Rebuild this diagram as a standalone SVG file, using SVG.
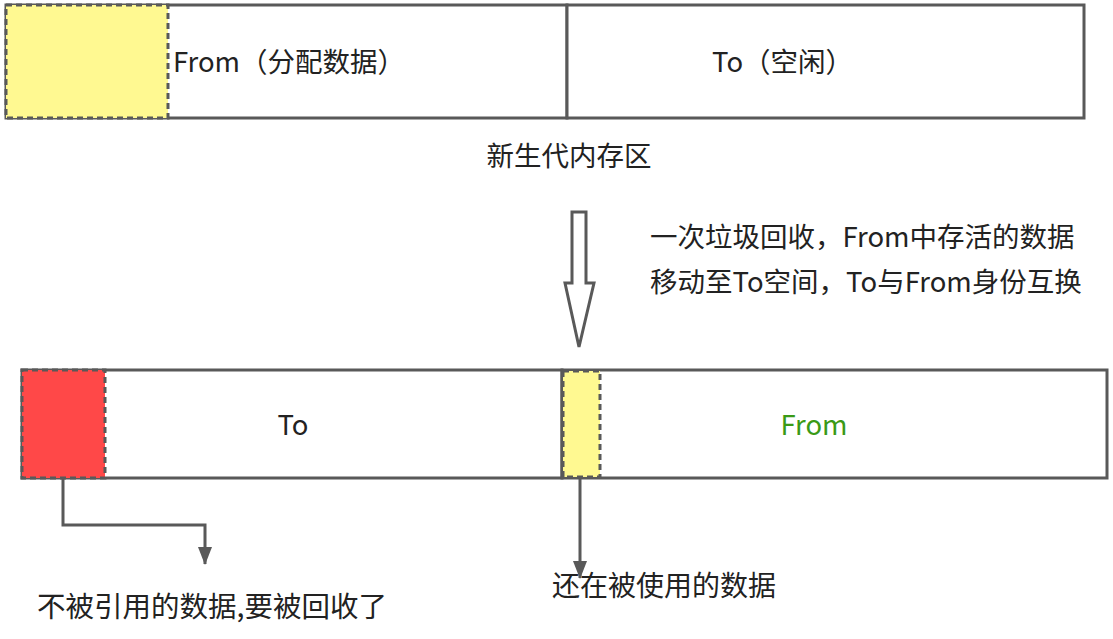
<svg xmlns="http://www.w3.org/2000/svg" width="1113" height="639" viewBox="0 0 1113 639">
<style>
text{font-family:"Noto Sans CJK SC","Noto Sans",sans-serif;font-size:27.5px;fill:#222;dominant-baseline:central}
.big{font-size:28.5px}
.mid{font-size:28px}
.box{fill:#fff;stroke:#595959;stroke-width:3}
.dash{stroke:#595959;stroke-width:3;stroke-dasharray:6 4}
.conn{fill:none;stroke:#595959;stroke-width:3}
</style>
<defs>
<marker id="ah" viewBox="0 0 18 14" refX="17" refY="7" markerWidth="18" markerHeight="14" markerUnits="userSpaceOnUse" orient="auto">
<path d="M0,0 L18,7 L0,14 Z" fill="#595959"/>
</marker>
</defs>
<rect width="1113" height="639" fill="#fff"/>
<g id="from-top">
<rect class="box" x="6" y="5" width="561" height="113"/>
<rect class="dash" x="6" y="5" width="162" height="113" fill="#fff991"/>
<text x="173" y="60">From（分配数据）</text>
</g>
<g id="to-top">
<rect class="box" x="567" y="5" width="517" height="113"/>
<text x="712" y="60">To（空闲）</text>
</g>
<g id="young-label">
<text x="569" y="154" text-anchor="middle">新生代内存区</text>
</g>
<g id="gc-arrow">
<path d="M572,212 L586,212 L586,283 L594,283 L579,347 L565,283 L572,283 Z" fill="#fff" stroke="#595959" stroke-width="3" stroke-linejoin="miter"/>
<text x="650" y="235">一次垃圾回收，From中存活的数据</text>
<text x="650" y="280">移动至To空间，To与From身份互换</text>
</g>
<g id="to-bottom">
<rect class="box" x="22" y="370" width="540" height="108"/>
<rect class="dash" x="22" y="370" width="83" height="108" fill="#ff4848"/>
<text x="293" y="423" text-anchor="middle">To</text>
</g>
<g id="from-bottom">
<rect class="box" x="562" y="370" width="545" height="108"/>
<rect class="dash" x="563" y="371" width="37" height="106" fill="#fff991"/>
<text x="814" y="423" text-anchor="middle" style="fill:#3a9a16">From</text>
</g>
<g id="connectors">
<path class="conn" d="M63,478 L63,525 L205,525 L205,564" marker-end="url(#ah)"/>
<path class="conn" d="M580,478 L580,578" marker-end="url(#ah)"/>
</g>
<g id="label-garbage">
<text class="big" x="37" y="604">不被引用的数据,要被回收了</text>
</g>
<g id="label-alive">
<text class="mid" x="552" y="584">还在被使用的数据</text>
</g>
</svg>
